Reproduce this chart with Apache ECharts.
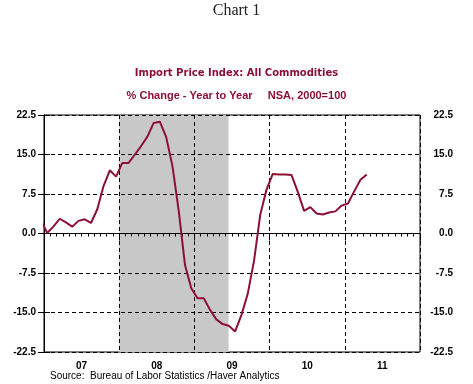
<!DOCTYPE html>
<html>
<head>
<meta charset="utf-8">
<script src="https://cdn.jsdelivr.net/npm/echarts@6/dist/echarts.min.js"></script>
<style>
html,body{margin:0;padding:0;background:#fff;}
#chart{width:473px;height:384px;}
</style>
</head>
<body>
<div id="chart"></div>
<script>
// Monthly, starting Dec 2006 (index 0) through Apr 2011
const startLabel = 'Dec 2006';
const values = [
  2.6,
  0.1, 1.3, 2.8, 2.1, 1.3, 2.4, 2.7, 2.0, 4.6, 9.0, 12.0, 10.8,
  13.4, 13.4, 15.0, 16.6, 18.4, 21.0, 21.2, 18.3, 12.8, 4.3, -6.0, -10.4,
  -12.3, -12.3, -14.5, -16.3, -17.2, -17.5, -18.6, -15.5, -11.5, -5.3, 3.5, 8.3,
  11.3, 11.2, 11.2, 11.1, 7.9, 4.3, 5.0, 3.8, 3.6, 4.0, 4.2, 5.3,
  5.7, 8.0, 10.2, 11.2
];
const yearLabels = ['07', '08', '09', '10', '11'];
const yTicks = [-22.5, -15.0, -7.5, 0.0, 7.5, 15.0, 22.5];
const recession = [12, 29.45]; // months since Jan 2007 (shaded span)

const lineData = values.map((v, i) => [i - 0.5, v]);

const red = '#8c1036';
const chart = echarts.init(document.getElementById('chart'), null, {renderer: 'canvas'});
const dash = [4, 3];
const yAxisBase = {
  type: 'value', min: yTicks[0], max: yTicks[yTicks.length - 1], interval: 7.5, z: 3,
  axisLine: {show: true, lineStyle: {color: '#000', width: 1}},
  axisTick: {show: true, length: 6, lineStyle: {color: '#000'}},
  splitLine: {show: true, lineStyle: {color: '#000', type: dash, width: 1}},
  axisLabel: {show: true, margin: 8, color: '#000', fontFamily: 'Liberation Sans, Arial', fontWeight: 'bold', fontSize: 10,
    formatter: v => v.toFixed(1)}
};
const titleFont = 'DejaVu Sans, Liberation Sans, Arial';
chart.setOption({
  animation: false,
  backgroundColor: '#fff',
  title: [
    {text: 'Chart 1', left: 'center', top: -2, textStyle: {fontFamily: 'Liberation Serif, Times New Roman', fontWeight: 'normal', fontSize: 16, color: '#222'}},
    {text: 'Import Price Index: All Commodities', left: 'center', top: 63, textStyle: {fontFamily: titleFont, fontWeight: 'bold', fontSize: 10, color: red}},
    {text: '% Change - Year to Year     NSA, 2000=100', left: 'center', top: 85, textStyle: {fontFamily: 'Liberation Sans, Arial', fontWeight: 'bold', fontSize: 11, color: red}},
    {text: 'Source:  Bureau of Labor Statistics /Haver Analytics', left: 45, top: 366, textStyle: {fontFamily: 'Liberation Sans, Arial', fontWeight: 'normal', fontSize: 10, color: '#000'}}
  ],
  grid: {left: 44, right: 53, top: 115, bottom: 32, show: true, borderColor: '#000', borderWidth: 1, backgroundColor: 'transparent'},
  xAxis: [
    {type: 'value', min: 0, max: 60, interval: 12, position: 'bottom', z: 3,
      axisLine: {show: true, lineStyle: {color: '#000'}},
      axisTick: {show: true, length: 7, lineStyle: {color: '#000'}},
      minorTick: {show: true, splitNumber: 12, length: 3, lineStyle: {color: '#000'}},
      splitLine: {show: true, lineStyle: {color: '#000', type: dash}},
      axisLabel: {show: false}},
    {type: 'value', min: 0, max: 60, interval: 6, position: 'bottom',
      axisLine: {show: false}, axisTick: {show: false}, splitLine: {show: false},
      axisLabel: {show: true, margin: 9, color: '#000', fontFamily: 'Liberation Sans, Arial', fontWeight: 'bold', fontSize: 10,
        formatter: v => (v % 12 === 6 ? yearLabels[(v - 6) / 12] : '')}}
  ],
  yAxis: [
    Object.assign({}, yAxisBase, {position: 'left'}),
    Object.assign({}, yAxisBase, {position: 'right', splitLine: {show: false},
      axisLabel: Object.assign({}, yAxisBase.axisLabel, {margin: 33, align: 'right'})})
  ],
  series: [
    {type: 'line', xAxisIndex: 0, yAxisIndex: 0, data: [], z: -1, silent: true,
      markArea: {silent: true, itemStyle: {color: '#c8c8c8'}, data: [[{xAxis: recession[0]}, {xAxis: recession[1]}]]}},
    {type: 'line', xAxisIndex: 0, yAxisIndex: 0, data: lineData, showSymbol: false, symbol: 'none', clip: true,
      lineStyle: {color: red, width: 2}, z: 10}
  ]
});
</script>
</body>
</html>
